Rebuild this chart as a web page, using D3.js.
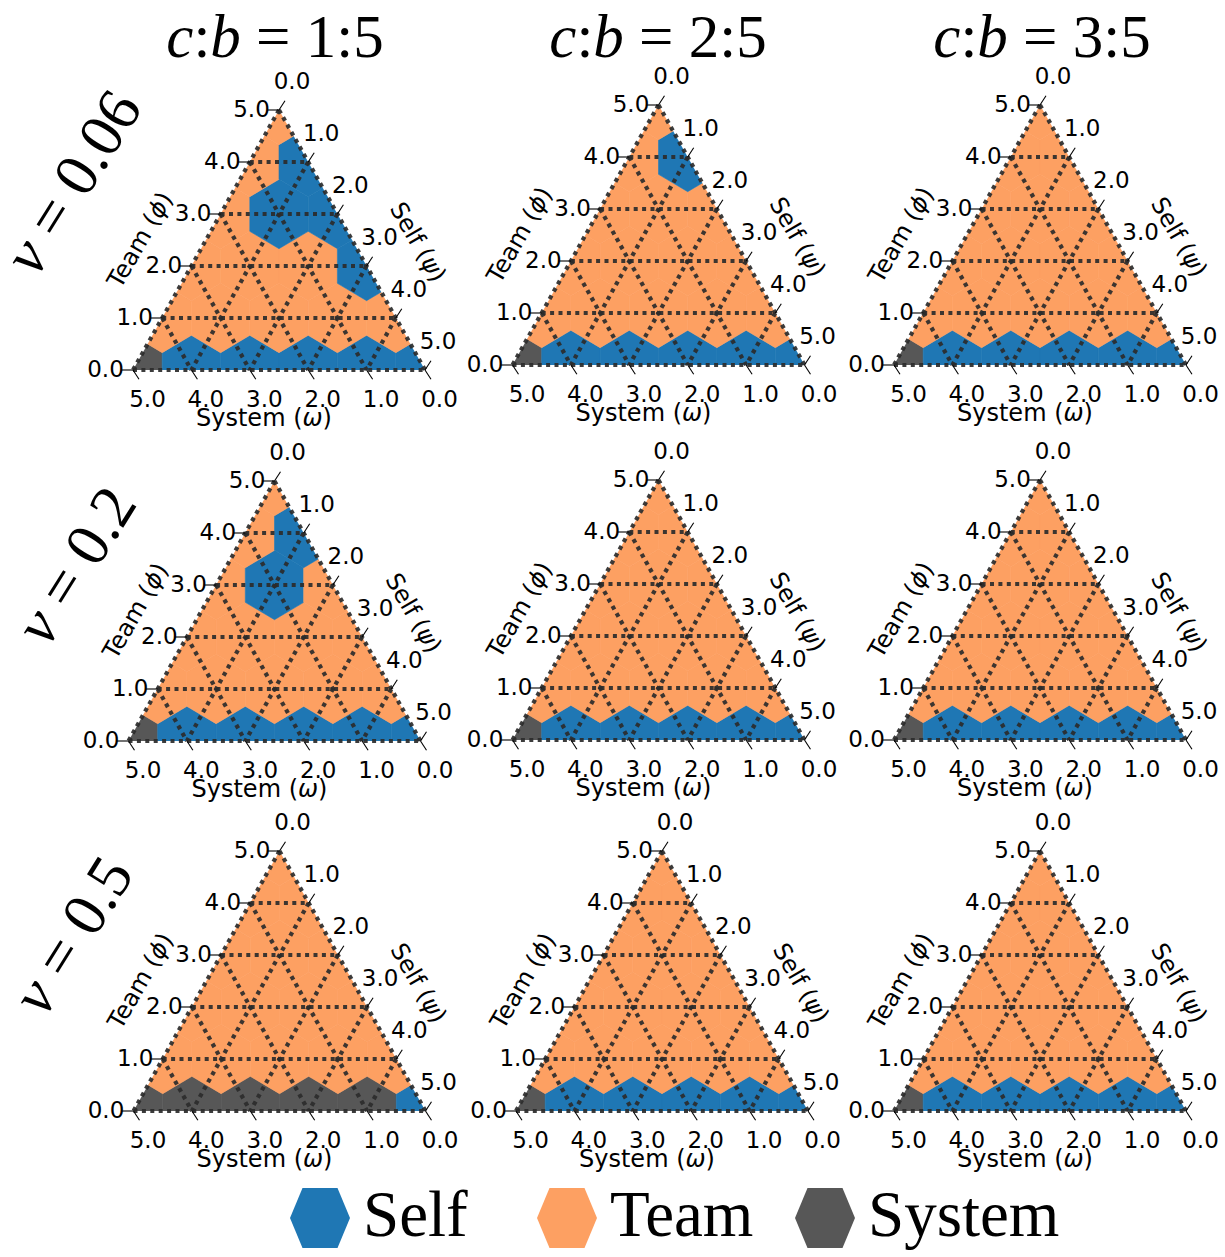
<!DOCTYPE html>
<html>
<head>
<meta charset="utf-8">
<script src="https://cdn.jsdelivr.net/npm/d3@7"></script>
<style>
  body { margin: 0; background: #fff; }
  svg { display: block; }
</style>
</head>
<body>
<svg id="chart" width="1225" height="1257"></svg>
<script>
// ---- data -------------------------------------------------------------
const strategies = ["Self", "Team", "System"];
const strategyColors = ["#1f77b4", "#fda062", "#575757"];
const costRatios = ["1:5", "2:5", "3:5"];      // c:b, one per column
const nuValues = ["0.06", "0.2", "0.5"];        // ν, one per row
const tickValues = [0, 1, 2, 3, 4, 5];
const tickLabels = ["0.0", "1.0", "2.0", "3.0", "4.0", "5.0"];
const SCALE = 5;

// Winning strategy on the simplex lattice (ψ = Self, φ = Team, ω = 5 − ψ − φ).
// Rows run φ = 0..5, entries run ψ = 0..5−φ.  0 = Self, 1 = Team, 2 = System.
const winner_nu006_cb15 = [[2, 0, 0, 0, 0, 0], [1, 1, 1, 1, 1], [1, 1, 1, 0], [1, 0, 0], [1, 0], [1]];
const winner_nu006_cb25 = [[2, 0, 0, 0, 0, 0], [1, 1, 1, 1, 1], [1, 1, 1, 1], [1, 1, 1], [1, 0], [1]];
const winner_nu006_cb35 = [[2, 0, 0, 0, 0, 0], [1, 1, 1, 1, 1], [1, 1, 1, 1], [1, 1, 1], [1, 1], [1]];
const winner_nu02_cb15  = [[2, 0, 0, 0, 0, 0], [1, 1, 1, 1, 1], [1, 1, 1, 1], [1, 0, 1], [1, 0], [1]];
const winner_nu02_cb25  = [[2, 0, 0, 0, 0, 0], [1, 1, 1, 1, 1], [1, 1, 1, 1], [1, 1, 1], [1, 1], [1]];
const winner_nu02_cb35  = [[2, 0, 0, 0, 0, 0], [1, 1, 1, 1, 1], [1, 1, 1, 1], [1, 1, 1], [1, 1], [1]];
const winner_nu05_cb15  = [[2, 2, 2, 2, 2, 0], [1, 1, 1, 1, 1], [1, 1, 1, 1], [1, 1, 1], [1, 1], [1]];
const winner_nu05_cb25  = [[2, 0, 0, 0, 0, 0], [1, 1, 1, 1, 1], [1, 1, 1, 1], [1, 1, 1], [1, 1], [1]];
const winner_nu05_cb35  = [[2, 0, 0, 0, 0, 0], [1, 1, 1, 1, 1], [1, 1, 1, 1], [1, 1, 1], [1, 1], [1]];

const panelData = [
  [winner_nu006_cb15, winner_nu006_cb25, winner_nu006_cb35],
  [winner_nu02_cb15,  winner_nu02_cb25,  winner_nu02_cb35],
  [winner_nu05_cb15,  winner_nu05_cb25,  winner_nu05_cb35]
];

// ---- layout -----------------------------------------------------------
// bottom-left corner of each simplex: [x, y]
const panelOrigins = [
  [[133, 370], [512.5, 365], [894, 365]],
  [[128.5, 741], [512.5, 740], [894, 740]],
  [[133.5, 1111], [516, 1111], [894, 1111]]
];
const TRI_W = 292, TRI_H = 260;
const R3 = Math.sqrt(3);

const svg = d3.select("#chart");
const tickFont = "'DejaVu Sans', sans-serif";
const serif = "'Liberation Serif', 'Times New Roman', serif";

panelData.forEach((rowPanels, r) => {
  rowPanels.forEach((cells, c) => {
    const [ox, oy] = panelOrigins[r][c];
    drawSimplex(svg.append("g"), cells, ox, oy, `tri-${r}-${c}`);
  });
});

function drawSimplex(g, cells, ox, oy, id) {
  const xs = d3.scaleLinear().domain([0, SCALE]).range([ox, ox + TRI_W]);
  const ys = d3.scaleLinear().domain([0, SCALE * R3 / 2]).range([oy, oy - TRI_H]);
  // cartesian position of a lattice point (ψ, φ)
  const cart = (psi, phi) => [psi + phi / 2, phi * R3 / 2];
  const proj = (psi, phi) => { const [x, y] = cart(psi, phi); return [xs(x), ys(y)]; };

  const corners = [proj(0, 0), proj(SCALE, 0), proj(0, SCALE)];
  g.append("clipPath").attr("id", id)
    .append("polygon").attr("points", corners.map(p => p.join(",")).join(" "));

  // hexagonal heat-map cells
  const hexOffsets = [
    [0, 1 / R3], [0.5, 0.5 / R3], [0.5, -0.5 / R3],
    [0, -1 / R3], [-0.5, -0.5 / R3], [-0.5, 0.5 / R3]
  ];
  const cellData = [];
  cells.forEach((row, phi) => row.forEach((s, psi) => cellData.push({ psi, phi, s })));
  const cellLayer = g.append("g").attr("clip-path", `url(#${id})`);
  cellLayer.selectAll("polygon").data(cellData).join("polygon")
    .attr("points", d => {
      const [cx, cy] = cart(d.psi, d.phi);
      return hexOffsets.map(([dx, dy]) => [xs(cx + dx), ys(cy + dy)].join(",")).join(" ");
    })
    .attr("fill", d => strategyColors[d.s])
    .attr("stroke", d => strategyColors[d.s])
    .attr("stroke-width", 0.6);

  // dotted grid lines (multiple = 1), edges included
  const lines = [];
  for (let v = 0; v < SCALE; v++) {
    lines.push([proj(0, v), proj(SCALE - v, v)]);            // constant Team φ
    lines.push([proj(v, SCALE - v), proj(v, 0)]);            // constant Self ψ
    lines.push([proj(0, SCALE - v), proj(SCALE - v, 0)]);    // constant System ω
  }
  g.append("g").selectAll("line").data(lines).join("line")
    .attr("x1", d => d[0][0]).attr("y1", d => d[0][1])
    .attr("x2", d => d[1][0]).attr("y2", d => d[1][1])
    .attr("stroke", "#2b2b2b").attr("stroke-opacity", 0.92)
    .attr("stroke-width", 4.2)
    .attr("stroke-dasharray", "4 4.4");

  // ticks
  const tickG = g.append("g").attr("font-family", tickFont).attr("font-size", 23)
    .attr("text-anchor", "middle").attr("fill", "#000");
  const tickLen = 12, tdx = tickLen / 2, tdy = tickLen * R3 / 2 * 0.89;

  tickValues.forEach((v, idx) => {
    // left axis: Team φ
    let [x, y] = proj(0, v);
    tickG.append("line").attr("x1", x).attr("y1", y).attr("x2", x - tickLen).attr("y2", y)
      .attr("stroke", "#000").attr("stroke-width", 1.1);
    tickG.append("text").attr("x", x - 27.5).attr("y", y + 7).text(tickLabels[idx]);

    // right axis: Self ψ
    [x, y] = proj(SCALE - v, v);
    tickG.append("line").attr("x1", x).attr("y1", y).attr("x2", x + tdx).attr("y2", y - tdy)
      .attr("stroke", "#000").attr("stroke-width", 1.1);
    tickG.append("text").attr("x", x + 13).attr("y", y - 21).text(tickLabels[SCALE - idx]);

    // bottom axis: System ω
    [x, y] = proj(v, 0);
    tickG.append("line").attr("x1", x).attr("y1", y).attr("x2", x + tdx).attr("y2", y + tdy)
      .attr("stroke", "#000").attr("stroke-width", 1.1);
    tickG.append("text").attr("x", x + 14.5).attr("y", y + 37).text(tickLabels[SCALE - idx]);
  });

  // axis titles
  const axG = g.append("g").attr("font-family", tickFont).attr("font-size", 24)
    .attr("fill", "#000").attr("text-anchor", "middle");
  const addTitle = (word, sym, x, y, rot) => {
    const t = axG.append("text").attr("transform", `translate(${x},${y}) rotate(${rot})`)
      .attr("dominant-baseline", "central");
    t.append("tspan").text(word + " (");
    t.append("tspan").attr("font-style", "italic").text(sym);
    t.append("tspan").text(")");
  };
  addTitle("System", "ω", ox + 131, oy + 48, 0);
  addTitle("Team", "ϕ", ox + 7, oy - 130, -60);
  addTitle("Self", "ψ", ox + 285, oy - 128, 60);
}

// column headers  c:b = …
const headerX = [275, 658, 1042];
costRatios.forEach((ratio, i) => {
  const t = svg.append("text").attr("x", headerX[i]).attr("y", 57)
    .attr("font-family", serif).attr("font-size", 61).attr("text-anchor", "middle");
  t.append("tspan").attr("font-style", "italic").text("c");
  t.append("tspan").text(":");
  t.append("tspan").attr("font-style", "italic").text("b");
  t.append("tspan").text(` = ${ratio}`);
});

// row headers  ν = …
const rowLabelPos = [[72, 182], [75, 565], [72, 935]];
nuValues.forEach((nu, i) => {
  const [x, y] = rowLabelPos[i];
  const t = svg.append("text").attr("transform", `translate(${x},${y}) rotate(-58)`)
    .attr("font-family", serif).attr("font-size", 62).attr("text-anchor", "middle")
    .attr("dominant-baseline", "central");
  t.append("tspan").attr("font-style", "italic").text("ν");
  t.append("tspan").text(` = ${nu}`);
});

// legend
const legendX = [320, 567, 825];
const hexMarker = [[-30, 0], [-17.5, -30], [17.5, -30], [30, 0], [17.5, 30], [-17.5, 30]];
strategies.forEach((name, i) => {
  const g = svg.append("g").attr("transform", `translate(${legendX[i]},1218)`);
  g.append("polygon").attr("points", hexMarker.map(p => p.join(",")).join(" "))
    .attr("fill", strategyColors[i]);
  g.append("text").attr("x", 43).attr("y", 18)
    .attr("font-family", serif).attr("font-size", 65).text(name);
});
</script>
</body>
</html>
